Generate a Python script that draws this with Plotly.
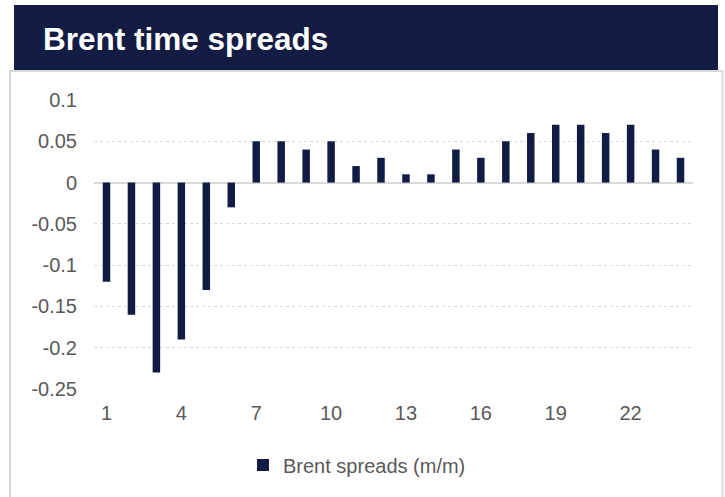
import plotly.graph_objects as go

months = list(range(1, 25))
spreads = [-0.12, -0.16, -0.23, -0.19, -0.13, -0.03, 0.05, 0.05, 0.04, 0.05, 0.02, 0.03,
           0.01, 0.01, 0.04, 0.03, 0.05, 0.06, 0.07, 0.07, 0.06, 0.07, 0.04, 0.03]
x_ticks = [1, 4, 7, 10, 13, 16, 19, 22]
y_ticks = [0.1, 0.05, 0, -0.05, -0.1, -0.15, -0.2, -0.25]
y_labels = ["0.1", "0.05", "0", "-0.05", "-0.1", "-0.15", "-0.2", "-0.25"]

W, H = 725, 497
L, R, T, B = 94, 32, 100, 108
PW, PH = W - L - R, H - T - B

def px(x):
    return (x - L) / PW

def py(y):
    return (H - B - y) / PH

NAVY = "#111c44"
FONT = "Liberation Sans, Arial, sans-serif"
fig = go.Figure()
fig.add_trace(go.Bar(x=months, y=spreads, name="Brent spreads (m/m)",
                     marker=dict(color=NAVY, line=dict(width=0))))

fig.update_layout(
    width=W, height=H,
    margin=dict(l=L, r=R, t=T, b=B),
    paper_bgcolor="white", plot_bgcolor="white",
    font=dict(family=FONT, color="#595959", size=20),
    bargap=0.7,
    showlegend=True,
    legend=dict(orientation="h", x=px(243), xanchor="left", y=py(465), yanchor="middle",
                font=dict(size=20, color="#595959"), itemwidth=30,
                bgcolor="rgba(0,0,0,0)"),
    xaxis=dict(range=[0.5, 24.5], tickmode="array", tickvals=x_ticks,
               ticktext=[str(v) for v in x_ticks], showgrid=False, zeroline=False,
               showline=False, ticks="", ticklen=0, tickfont=dict(size=20)),
    yaxis=dict(range=[-0.25, 0.1], tickmode="array", tickvals=y_ticks, ticktext=y_labels,
               showgrid=True, gridcolor="#d9d9d9", griddash="dot", gridwidth=1,
               zeroline=True, zerolinecolor="#d9d9d9", zerolinewidth=2,
               showline=False, ticks="", ticklen=0, tickfont=dict(size=20)),
    shapes=[
        dict(type="rect", xref="paper", yref="paper", x0=px(10), x1=px(722.5), y0=py(505), y1=py(71),
             line=dict(color="#d9d9d9", width=2), fillcolor="rgba(0,0,0,0)", layer="below"),
        dict(type="rect", xref="paper", yref="paper", x0=px(14), x1=px(718), y0=py(70), y1=py(5),
             line=dict(width=0), fillcolor="#131c42", layer="above"),
    ],
    annotations=[
        dict(text="<b>Brent time spreads</b>", xref="paper", yref="paper", x=px(41), y=py(39),
             xanchor="left", yanchor="middle", showarrow=False,
             font=dict(family=FONT, size=31.5, color="white")),
    ],
)
fig.update_xaxes(ticklabelstandoff=10)
fig.update_yaxes(ticklabelstandoff=16)

fig.write_html("out.html", config={"displayModeBar": False},
               post_script="document.body.style.margin='0';")
